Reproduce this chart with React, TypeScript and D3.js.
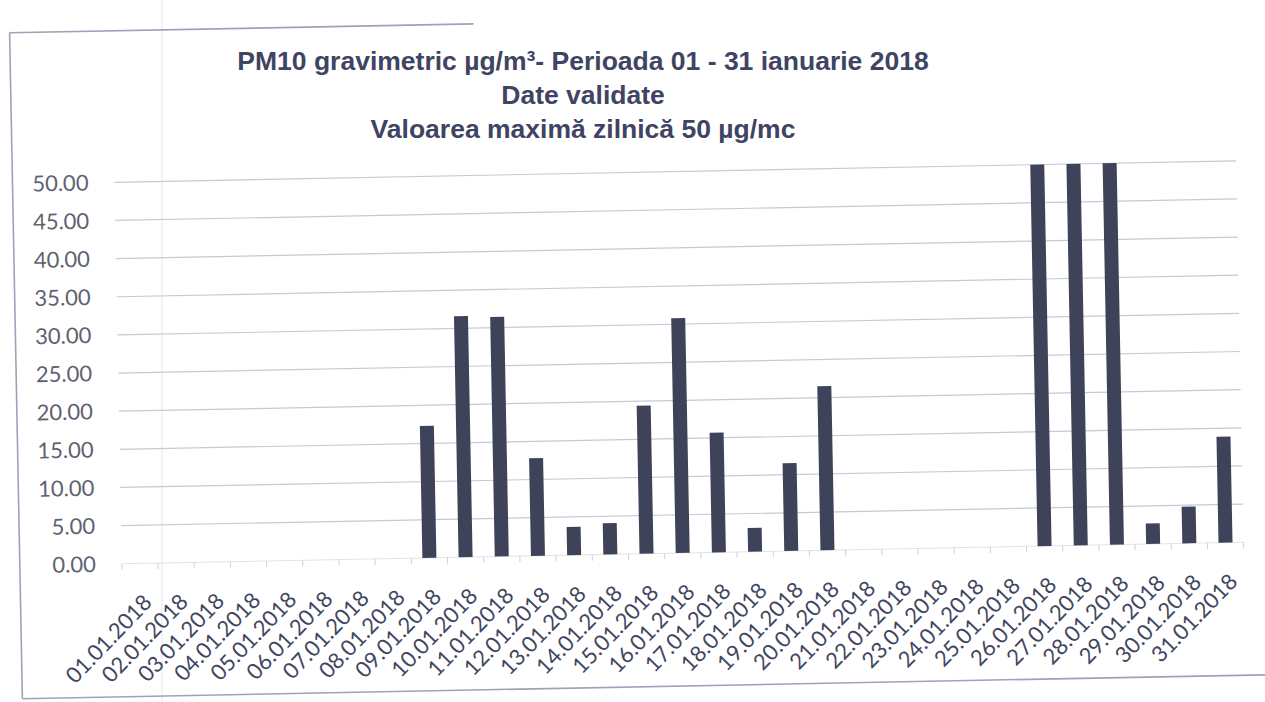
import React from "react";
import * as d3 from "d3";

const categories: string[] = [
  "01.01.2018", "02.01.2018", "03.01.2018", "04.01.2018", "05.01.2018", "06.01.2018",
  "07.01.2018", "08.01.2018", "09.01.2018", "10.01.2018", "11.01.2018", "12.01.2018",
  "13.01.2018", "14.01.2018", "15.01.2018", "16.01.2018", "17.01.2018", "18.01.2018",
  "19.01.2018", "20.01.2018", "21.01.2018", "22.01.2018", "23.01.2018", "24.01.2018",
  "25.01.2018", "26.01.2018", "27.01.2018", "28.01.2018", "29.01.2018", "30.01.2018",
  "31.01.2018",
];

// PM10 daily values (µg/m³); null = no data. Values at 50 reach the top of the axis.
const pm10Values: (number | null)[] = [
  null, null, null, null, null, null, null, null,
  17.3, 31.6, 31.4, 12.8, 3.7, 4.1, 19.4, 30.8, 15.7, 3.1, 11.5, 21.5,
  null, null, null, null, null,
  50, 50, 50, 2.7, 4.8, 13.9,
];

const yTicks: number[] = [0, 5, 10, 15, 20, 25, 30, 35, 40, 45, 50];

const titleLines: string[] = [
  "PM10 gravimetric µg/m³- Perioada 01 - 31 ianuarie 2018",
  "Date validate",
  "Valoarea maximă zilnică 50 µg/mc",
];

const W = 1265;
const H = 702;
const plotLeft = 118;
const plotRight = 1240;
const plotTop = 171.5;
const plotBottom = 553;

export default function App() {
  const x = d3
    .scaleBand<string>()
    .domain(categories)
    .range([plotLeft, plotRight])
    .paddingInner(0.613)
    .paddingOuter(0.3065);
  const y = d3.scaleLinear().domain([0, 50]).range([plotBottom, plotTop]).clamp(true);
  const fmt = d3.format(".2f");
  const step = x.step();

  return (
    <svg
      width={W}
      height={H}
      style={{ position: "absolute", left: 0, top: 0, background: "#ffffff" }}
    >
      <rect x={0} y={0} width={W} height={H} fill="#ffffff" />
      {/* faint scan fold line */}
      <line x1={162} x2={162} y1={0} y2={H} stroke="#e8e9ee" strokeWidth={1.2} />

      {/* title (placed at the tilted positions, drawn level) */}
      {titleLines.map((t, i) => (
        <text
          key={i}
          x={583}
          y={70 + i * 34}
          textAnchor="middle"
          fontFamily="'Liberation Sans', Arial, sans-serif"
          fontWeight="bold"
          fontSize={26.5}
          fill="#3f4463"
        >
          {t}
        </text>
      ))}

      <g transform="rotate(-1.1 680 360)">
        {/* outer chart frame */}
        <line x1={16} x2={480} y1={20} y2={20} stroke="#9ea2b8" strokeWidth={1.6} />
        <line x1={16} x2={16} y1={20} y2={686} stroke="#9ea2b8" strokeWidth={1.6} />
        <line x1={16} x2={1400} y1={686} y2={686} stroke="#9ea2b8" strokeWidth={1.6} />

        {/* gridlines */}
        {yTicks.slice(1).map((v) => (
          <line
            key={v}
            x1={plotLeft}
            x2={plotRight}
            y1={y(v)}
            y2={y(v)}
            stroke="#c6c9d8"
            strokeWidth={1.2}
          />
        ))}

        {/* x axis line and ticks */}
        <line x1={plotLeft} x2={plotRight} y1={plotBottom} y2={plotBottom} stroke="#e2e3e8" strokeWidth={1} />
        {d3.range(categories.length + 1).map((i) => (
          <line
            key={i}
            x1={plotLeft + i * step}
            x2={plotLeft + i * step}
            y1={plotBottom}
            y2={plotBottom + 6}
            stroke="#cfd1da"
            strokeWidth={1}
          />
        ))}

        {/* y tick labels */}
        {yTicks.map((v) => (
          <text
            key={v}
            x={92}
            y={y(v)}
            dy="0.35em"
            textAnchor="end"
            fontFamily="Lato, 'Open Sans', sans-serif"
            fontSize={22}
            fill="#5f6270"
          >
            {fmt(v)}
          </text>
        ))}

        {/* bars */}
        {categories.map((c, i) => {
          const v = pm10Values[i];
          if (v == null) return null;
          const top = y(v);
          return (
            <rect
              key={c}
              x={x(c)}
              y={top}
              width={x.bandwidth()}
              height={plotBottom - top}
              fill="#3e4359"
            />
          );
        })}

        {/* x tick labels */}
        {categories.map((c) => {
          const cx = (x(c) as number) + x.bandwidth() / 2 + 12.5;
          const cy = plotBottom + 40.5;
          return (
            <text
              key={c}
              x={cx}
              y={cy}
              transform={`rotate(-45 ${cx} ${cy})`}
              textAnchor="end"
              fontFamily="Lato, 'Open Sans', sans-serif"
              fontSize={22}
              fill="#414660"
            >
              {c}
            </text>
          );
        })}
      </g>
    </svg>
  );
}
